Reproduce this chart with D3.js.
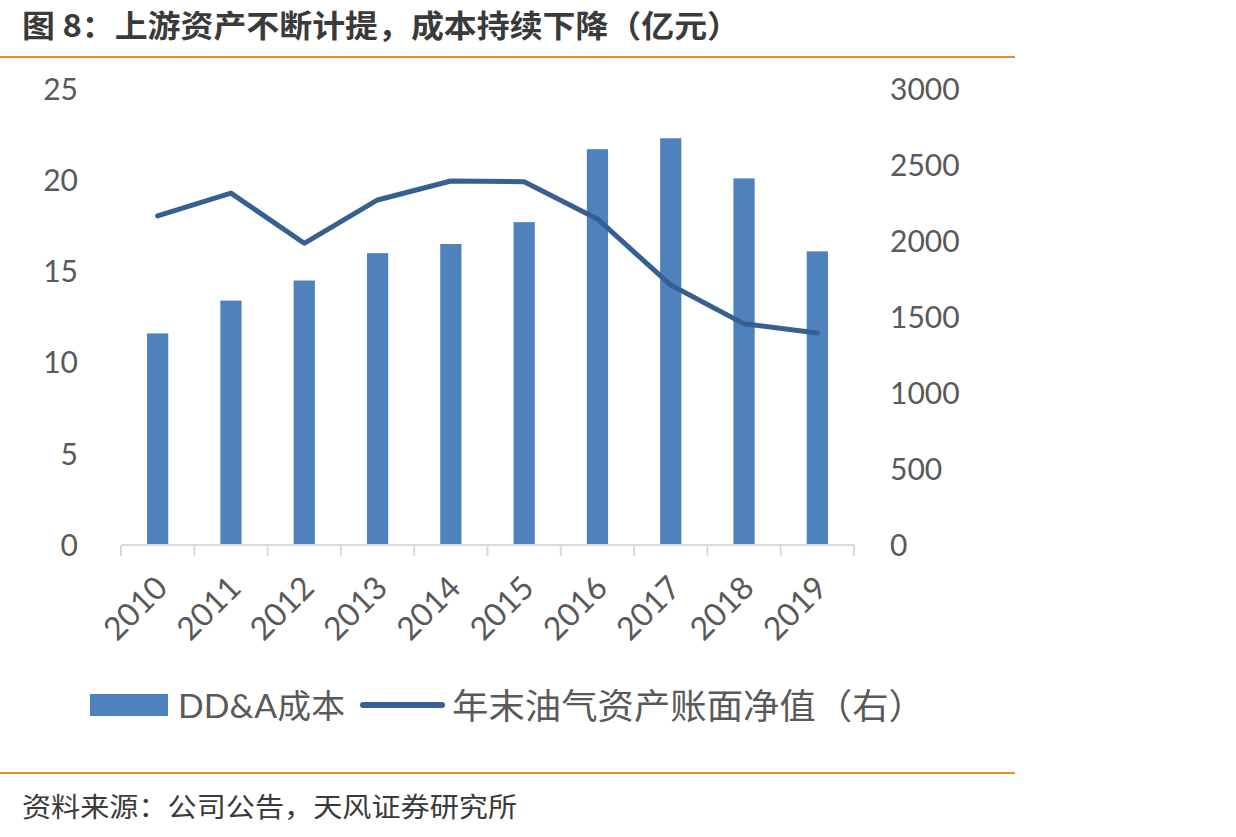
<!DOCTYPE html>
<html>
<head>
<meta charset="utf-8">
<script src="https://cdn.jsdelivr.net/npm/d3@7"></script>
<style>
  body { margin: 0; background: #fff; }
  svg text { font-family: Lato, "Noto Sans CJK SC", sans-serif; }
</style>
</head>
<body>
<svg id="chart" width="1236" height="837"></svg>
<script>
// data
const years = ["2010", "2011", "2012", "2013", "2014", "2015", "2016", "2017", "2018", "2019"];
const ddaCost = [11.6, 13.4, 14.5, 16.0, 16.5, 17.7, 21.7, 22.3, 20.1, 16.1];
const netAssets = [2165, 2315, 1985, 2270, 2395, 2390, 2145, 1710, 1455, 1395];
const leftTicks = [0, 5, 10, 15, 20, 25];
const rightTicks = [0, 500, 1000, 1500, 2000, 2500, 3000];

const svg = d3.select("#chart");
const cjk = "'Noto Sans CJK SC', sans-serif";

// title + rules
svg.append("text")
    .attr("x", 22).attr("y", 37)
    .attr("font-size", 31).attr("font-weight", "bold")
    .attr("fill", "#3a3a3a")
    .attr("textLength", 718).attr("lengthAdjust", "spacingAndGlyphs")
    .style("font-family", cjk)
    .text("图 8：上游资产不断计提，成本持续下降（亿元）");

svg.append("line").attr("x1", 0).attr("x2", 1015).attr("y1", 57).attr("y2", 57)
    .attr("stroke", "#f08a24").attr("stroke-width", 2);
svg.append("line").attr("x1", 0).attr("x2", 1015).attr("y1", 773).attr("y2", 773)
    .attr("stroke", "#f08a24").attr("stroke-width", 2);

svg.append("text")
    .attr("x", 22).attr("y", 817)
    .attr("font-size", 27)
    .attr("fill", "#3a3a3a")
    .attr("textLength", 495).attr("lengthAdjust", "spacingAndGlyphs")
    .style("font-family", cjk)
    .text("资料来源：公司公告，天风证券研究所");

// scales
const x = d3.scaleBand().domain(years).range([121, 854]).paddingInner(0.71).paddingOuter(0.355);
const band = d3.scaleBand().domain(years).range([121, 854]);
const yL = d3.scaleLinear().domain([0, 25]).range([545, 89]);
const yR = d3.scaleLinear().domain([0, 3000]).range([545, 89]);

// bars
svg.append("g").selectAll("rect")
    .data(years)
    .enter().append("rect")
    .attr("x", d => x(d))
    .attr("width", x.bandwidth())
    .attr("y", (d, i) => yL(ddaCost[i]))
    .attr("height", (d, i) => yL(0) - yL(ddaCost[i]))
    .attr("fill", "#4f81bd");

// x axis line + ticks at band edges
const axisG = svg.append("g");
axisG.append("line")
    .attr("x1", 121).attr("x2", 854).attr("y1", 545).attr("y2", 545)
    .attr("stroke", "#d9d9d9").attr("stroke-width", 2);
const edges = years.map(d => band(d)).concat([854]);
axisG.selectAll(".tk")
    .data(edges)
    .enter().append("line")
    .attr("x1", d => d).attr("x2", d => d)
    .attr("y1", 545).attr("y2", 556)
    .attr("stroke", "#d9d9d9").attr("stroke-width", 2);

// year labels rotated
svg.append("g").selectAll("text")
    .data(years)
    .enter().append("text")
    .attr("transform", d => `translate(${band(d) + band.bandwidth() / 2 - 4},${574}) rotate(-45)`)
    .attr("text-anchor", "end")
    .attr("dy", "0.7em")
    .attr("font-size", 32)
    .attr("fill", "#595959")
    .text(d => d);

// left / right tick labels
svg.append("g").selectAll("text")
    .data(leftTicks)
    .enter().append("text")
    .attr("x", 78).attr("y", d => yL(d))
    .attr("dy", "0.36em")
    .attr("text-anchor", "end")
    .attr("font-size", 30)
    .attr("fill", "#595959")
    .text(d => d);

svg.append("g").selectAll("text")
    .data(rightTicks)
    .enter().append("text")
    .attr("x", 890).attr("y", d => yR(d))
    .attr("dy", "0.36em")
    .attr("text-anchor", "start")
    .attr("font-size", 30)
    .attr("fill", "#595959")
    .text(d => d);

// line
const line = d3.line()
    .x((d, i) => band(years[i]) + band.bandwidth() / 2)
    .y(d => yR(d));
svg.append("path")
    .datum(netAssets)
    .attr("d", line)
    .attr("fill", "none")
    .attr("stroke", "#376092")
    .attr("stroke-width", 5)
    .attr("stroke-linecap", "round")
    .attr("stroke-linejoin", "round");

// legend
svg.append("rect").attr("x", 90).attr("y", 694).attr("width", 78).attr("height", 22).attr("fill", "#4f81bd");
svg.append("text").attr("x", 178).attr("y", 718)
    .attr("font-size", 33).attr("fill", "#595959")
    .attr("textLength", 167).attr("lengthAdjust", "spacingAndGlyphs")
    .text("DD&A成本");
svg.append("line").attr("x1", 363).attr("x2", 442).attr("y1", 705).attr("y2", 705)
    .attr("stroke", "#376092").attr("stroke-width", 6).attr("stroke-linecap", "round");
svg.append("text").attr("x", 452).attr("y", 719)
    .attr("font-size", 35).attr("fill", "#595959")
    .attr("textLength", 473).attr("lengthAdjust", "spacingAndGlyphs")
    .style("font-family", cjk)
    .text("年末油气资产账面净值（右）");
</script>
</body>
</html>
